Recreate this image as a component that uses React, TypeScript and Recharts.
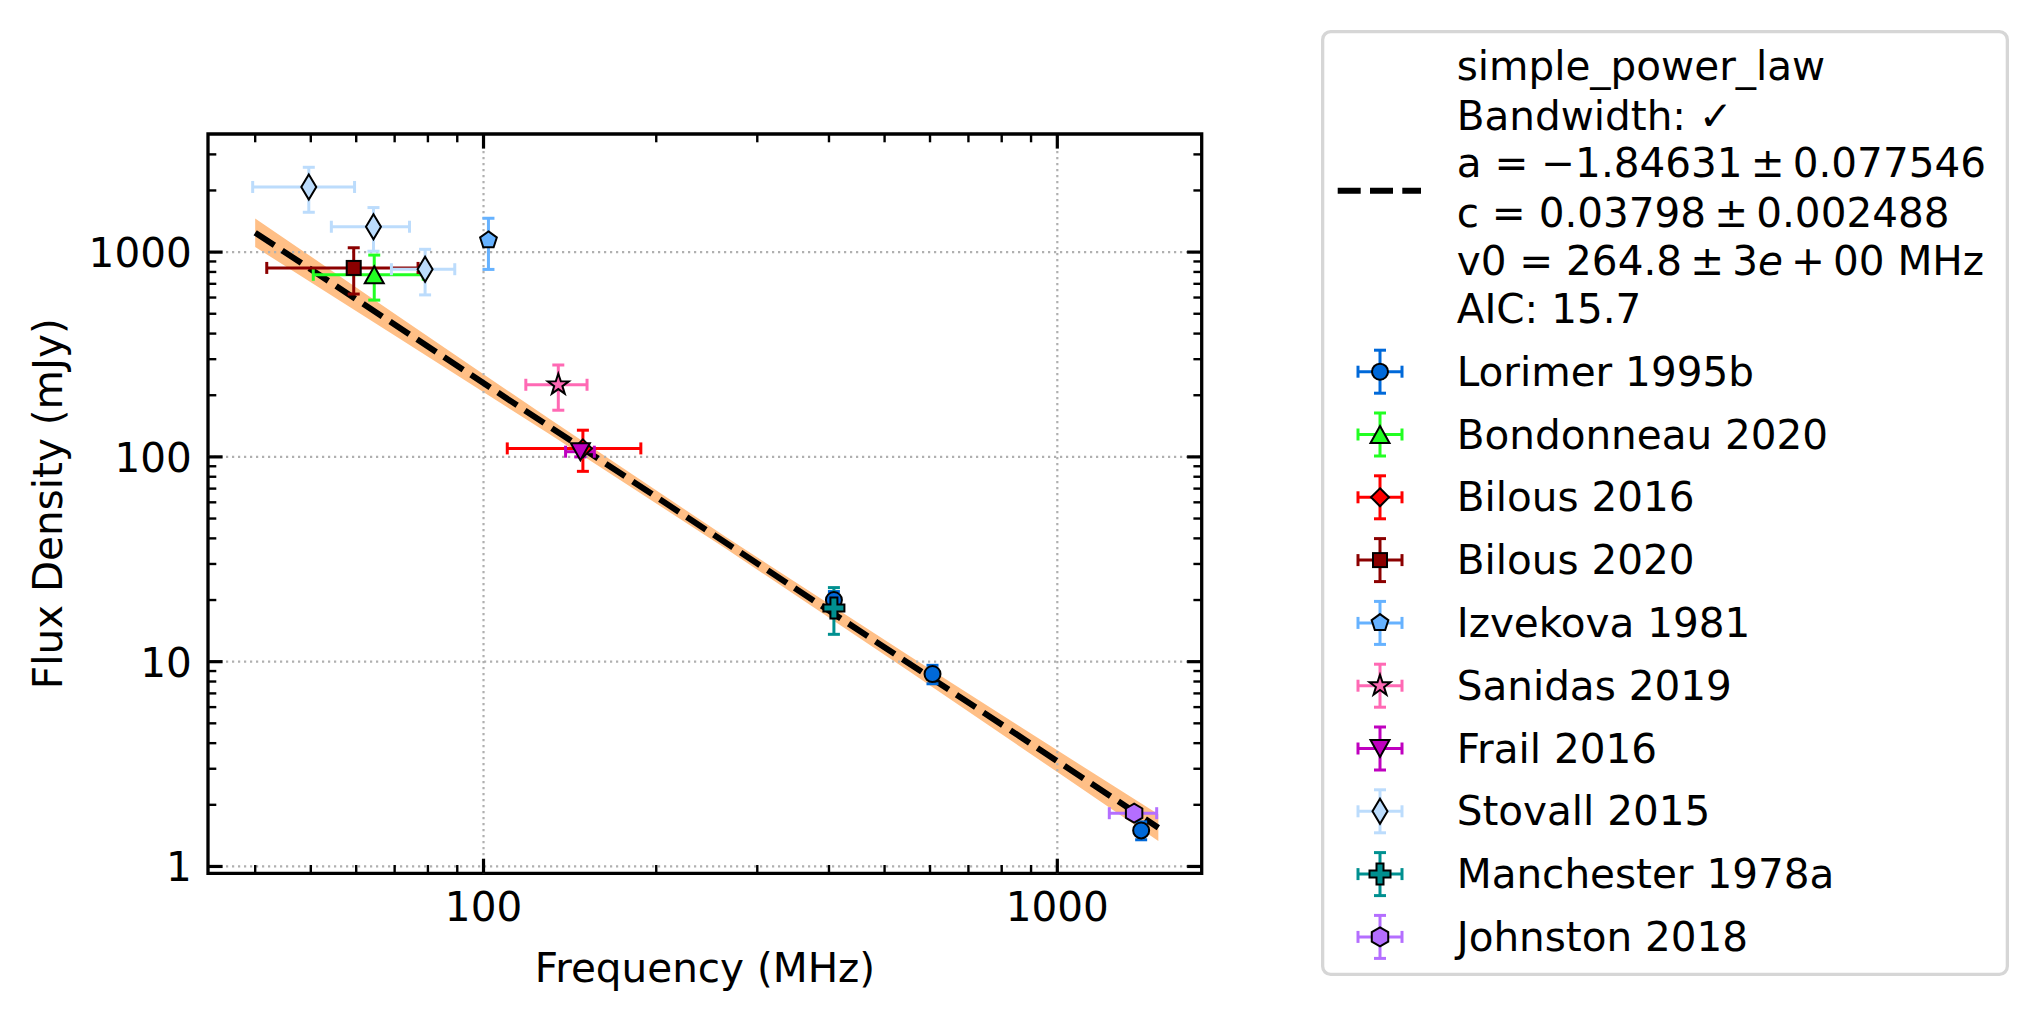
import React from 'react';
import {
  ComposedChart,
  XAxis,
  YAxis,
  Scatter,
  ErrorBar,
  Line,
  Area,
  ReferenceLine,
  ReferenceArea,
} from 'recharts';

// ---- axes ----
const X_DOMAIN = [33.1, 1785];
const Y_DOMAIN = [0.926, 3773];
const X_MAJOR = [100, 1000];
const X_MINOR = [40, 50, 60, 70, 80, 90, 200, 300, 400, 500, 600, 700, 800, 900];
const Y_MAJOR = [1, 10, 100, 1000];
const Y_MINOR = [
  2, 3, 4, 5, 6, 7, 8, 9, 20, 30, 40, 50, 60, 70, 80, 90, 200, 300, 400, 500, 600, 700, 800, 900,
  2000, 3000,
];

// ---- fit (simple power law) ----
const FIT_FREQ = [40, 1500];
const FIT_FLUX = [1244, 1.546];
const BAND_FREQ = [40, 70, 130, 265, 550, 1000, 1500];
const BAND_LOW = [1059, 392, 129.6, 35.5, 9.03, 2.89, 1.33];
const BAND_HIGH = [1461, 500, 153.8, 40.5, 10.74, 3.69, 1.8];
const FIT_LABEL = [
  'simple_power_law',
  'Bandwidth: \u2713',
  'a = \u22121.84631\u2009\u00b1\u20090.077546',
  'c = 0.03798\u2009\u00b1\u20090.002488',
  'v0 = 264.8\u2009\u00b1\u20093e\u2009+\u200900 MHz',
  'AIC: 15.7',
];

// ---- measurements ----
const LORIMER_FREQ = [408, 606, 1400];
const LORIMER_FLUX = [20, 8.7, 1.5];
const LORIMER_FLUX_ERR = [2, 0.9, 0.15];
const LORIMER_FREQ_ERR = [2, 3, 7];

const BONDONNEAU_FREQ = [64.5];
const BONDONNEAU_FLUX = [775];
const BONDONNEAU_FLUX_ERR = [192];
const BONDONNEAU_FREQ_ERR = [14];

const BILOUS16_FREQ = [149];
const BILOUS16_FLUX = [110];
const BILOUS16_FLUX_ERR = [25];
const BILOUS16_FREQ_ERR = [39];

const BILOUS20_FREQ = [59.4];
const BILOUS20_FLUX = [837];
const BILOUS20_FLUX_ERR = [213];
const BILOUS20_FREQ_ERR = [17.5];

const IZVEKOVA_FREQ = [102];
const IZVEKOVA_FLUX = [1143];
const IZVEKOVA_FLUX_ERR = [320];
const IZVEKOVA_FREQ_ERR = [1.5];

const SANIDAS_FREQ = [135];
const SANIDAS_FLUX = [225];
const SANIDAS_FLUX_ERR = [56];
const SANIDAS_FREQ_ERR = [16.5];

const FRAIL_FREQ = [147.5];
const FRAIL_FLUX = [106];
const FRAIL_FLUX_ERR = [6];
const FRAIL_FREQ_ERR = [8.5];

const STOVALL_FREQ = [49.6, 64.3, 79.1];
const STOVALL_FLUX = [2080, 1330, 825];
const STOVALL_FLUX_ERR = [515, 320, 207];
const STOVALL_FREQ_ERR = [10, 10, 10];

const MANCHESTER_FREQ = [408];
const MANCHESTER_FLUX = [18.3];
const MANCHESTER_FLUX_ERR = [4.7];
const MANCHESTER_FREQ_ERR = [2];

const JOHNSTON_FREQ = [1361];
const JOHNSTON_FLUX = [1.82];
const JOHNSTON_FLUX_ERR = [0.1];
const JOHNSTON_FREQ_ERR = [129];

type Kind =
  | 'circle' | 'triUp' | 'diamond' | 'square' | 'pentagon'
  | 'star' | 'triDown' | 'thinDiamond' | 'plus' | 'hexagon';

interface Series {
  name: string;
  color: string;
  marker: Kind;
  freq: number[];
  flux: number[];
  fluxErr: number[];
  freqErr: number[];
}

const SERIES: Series[] = [
  { name: 'Lorimer 1995b', color: '#0069d9', marker: 'circle', freq: LORIMER_FREQ, flux: LORIMER_FLUX, fluxErr: LORIMER_FLUX_ERR, freqErr: LORIMER_FREQ_ERR },
  { name: 'Bondonneau 2020', color: '#22ff22', marker: 'triUp', freq: BONDONNEAU_FREQ, flux: BONDONNEAU_FLUX, fluxErr: BONDONNEAU_FLUX_ERR, freqErr: BONDONNEAU_FREQ_ERR },
  { name: 'Bilous 2016', color: '#ff0000', marker: 'diamond', freq: BILOUS16_FREQ, flux: BILOUS16_FLUX, fluxErr: BILOUS16_FLUX_ERR, freqErr: BILOUS16_FREQ_ERR },
  { name: 'Bilous 2020', color: '#8b0000', marker: 'square', freq: BILOUS20_FREQ, flux: BILOUS20_FLUX, fluxErr: BILOUS20_FLUX_ERR, freqErr: BILOUS20_FREQ_ERR },
  { name: 'Izvekova 1981', color: '#66b2ff', marker: 'pentagon', freq: IZVEKOVA_FREQ, flux: IZVEKOVA_FLUX, fluxErr: IZVEKOVA_FLUX_ERR, freqErr: IZVEKOVA_FREQ_ERR },
  { name: 'Sanidas 2019', color: '#ff69b4', marker: 'star', freq: SANIDAS_FREQ, flux: SANIDAS_FLUX, fluxErr: SANIDAS_FLUX_ERR, freqErr: SANIDAS_FREQ_ERR },
  { name: 'Frail 2016', color: '#bf00bf', marker: 'triDown', freq: FRAIL_FREQ, flux: FRAIL_FLUX, fluxErr: FRAIL_FLUX_ERR, freqErr: FRAIL_FREQ_ERR },
  { name: 'Stovall 2015', color: '#bcdcfc', marker: 'thinDiamond', freq: STOVALL_FREQ, flux: STOVALL_FLUX, fluxErr: STOVALL_FLUX_ERR, freqErr: STOVALL_FREQ_ERR },
  { name: 'Manchester 1978a', color: '#009090', marker: 'plus', freq: MANCHESTER_FREQ, flux: MANCHESTER_FLUX, fluxErr: MANCHESTER_FLUX_ERR, freqErr: MANCHESTER_FREQ_ERR },
  { name: 'Johnston 2018', color: '#b46eff', marker: 'hexagon', freq: JOHNSTON_FREQ, flux: JOHNSTON_FLUX, fluxErr: JOHNSTON_FLUX_ERR, freqErr: JOHNSTON_FREQ_ERR },
];

// ---- layout ----
const W = 2042;
const H = 1018;
const PLOT_L = 208;
const PLOT_R = 1201.7;
const PLOT_T = 134;
const PLOT_B = 873.3;
const PLOT_W = PLOT_R - PLOT_L;
const PLOT_H = PLOT_B - PLOT_T;
const AXIS_SIZE = 60;
const FONT = '"DejaVu Sans", sans-serif';
const FS = 40.5;
const ERR_W = 3;

const fitData = FIT_FREQ.map((f, i) => ({ freq: f, flux: FIT_FLUX[i] }));
const bandData = BAND_FREQ.map((f, i) => ({ freq: f, band: [BAND_LOW[i], BAND_HIGH[i]] }));
const rows = (s: Series) =>
  s.freq.map((f, i) => ({ freq: f, flux: s.flux[i], fluxErr: s.fluxErr[i], freqErr: s.freqErr[i] }));

const poly = (cx: number, cy: number, n: number, r: number, rot: number, inner?: number) => {
  const pts: string[] = [];
  const m = inner ? n * 2 : n;
  for (let k = 0; k < m; k++) {
    const rr = inner && k % 2 === 1 ? inner : r;
    const a = rot + (k * 2 * Math.PI) / m;
    pts.push(`${cx + rr * Math.sin(a)},${cy - rr * Math.cos(a)}`);
  }
  return pts.join(' ');
};

function Marker({ kind, cx, cy, fill }: { kind: Kind; cx: number; cy: number; fill: string }) {
  const st = { fill, stroke: '#000', strokeWidth: 2, strokeLinejoin: 'miter' as const };
  switch (kind) {
    case 'circle':
      return <circle cx={cx} cy={cy} r={8} {...st} />;
    case 'square':
      return <rect x={cx - 7} y={cy - 7} width={14} height={14} {...st} />;
    case 'diamond':
      return <polygon points={`${cx},${cy - 9} ${cx + 9},${cy} ${cx},${cy + 9} ${cx - 9},${cy}`} {...st} />;
    case 'thinDiamond':
      return <polygon points={`${cx},${cy - 12.5} ${cx + 7.5},${cy} ${cx},${cy + 12.5} ${cx - 7.5},${cy}`} {...st} />;
    case 'triUp':
      return <polygon points={`${cx},${cy - 8.5} ${cx + 9.5},${cy + 8.5} ${cx - 9.5},${cy + 8.5}`} {...st} />;
    case 'triDown':
      return <polygon points={`${cx},${cy + 8.5} ${cx + 9.5},${cy - 8.5} ${cx - 9.5},${cy - 8.5}`} {...st} />;
    case 'pentagon':
      return <polygon points={poly(cx, cy, 5, 8.8, 0)} {...st} />;
    case 'star':
      return <polygon points={poly(cx, cy, 5, 11, 0, 4.3)} {...st} />;
    case 'hexagon':
      return <polygon points={poly(cx, cy, 6, 9.5, 0)} {...st} />;
    case 'plus': {
      const a = 10.5;
      const b = 3.5;
      const p = [
        [-b, -a], [b, -a], [b, -b], [a, -b], [a, b], [b, b],
        [b, a], [-b, a], [-b, b], [-a, b], [-a, -b], [-b, -b],
      ];
      return <polygon points={p.map(([x, y]) => `${cx + x},${cy + y}`).join(' ')} {...st} />;
    }
    default:
      return null;
  }
}

const XTick = (props: any) => {
  const { x, y, payload } = props;
  const major = X_MAJOR.includes(payload.value);
  const len = major ? 14.6 : 8.3;
  const sw = major ? 3.2 : 2.4;
  return (
    <g>
      <line x1={x} x2={x} y1={y} y2={y - len} stroke="#000" strokeWidth={sw} />
      <line x1={x} x2={x} y1={y - PLOT_H} y2={y - PLOT_H + len} stroke="#000" strokeWidth={sw} />
      {major && (
        <text x={x} y={y + 47.7} textAnchor="middle" fontFamily={FONT} fontSize={FS} fill="#000">
          {payload.value}
        </text>
      )}
    </g>
  );
};

const YTick = (props: any) => {
  const { x, y, payload } = props;
  const major = Y_MAJOR.includes(payload.value);
  const len = major ? 14.6 : 8.3;
  const sw = major ? 3.2 : 2.4;
  return (
    <g>
      <line x1={x} x2={x + len} y1={y} y2={y} stroke="#000" strokeWidth={sw} />
      <line x1={x + PLOT_W} x2={x + PLOT_W - len} y1={y} y2={y} stroke="#000" strokeWidth={sw} />
      {major && (
        <text x={x - 16.3} y={y + 15} textAnchor="end" fontFamily={FONT} fontSize={FS} fill="#000">
          {payload.value}
        </text>
      )}
    </g>
  );
};

const grid = { stroke: '#b0b0b0', strokeWidth: 2.2, strokeDasharray: '2.2 3.8' };

function LegendBox() {
  const LX = 1321;
  const LY = 30;
  const LW = 688;
  const LH = 946;
  const fitBase = [50, 100, 146.7, 196.7, 245, 293.3];
  return (
    <g transform={`translate(${LX},${LY})`} fontFamily={FONT} fontSize={FS} fill="#000">
      <rect x={1.65} y={1.65} width={LW - 3.3} height={LH - 3.3} rx={8} fill="#fff" stroke="#d6d6d6" strokeWidth={3.3} />
      <line x1={16.7} x2={100} y1={160.7} y2={160.7} stroke="#000" strokeWidth={6} strokeDasharray="23 9.3" />
      {FIT_LABEL.map((t, i) => {
        if (t.includes('3e')) {
          const [pre, post] = t.split('3e');
          return (
            <text key={i} x={135.7} y={fitBase[i]}>
              {pre}3<tspan fontStyle="italic">e</tspan>
              {post}
            </text>
          );
        }
        return (
          <text key={i} x={135.7} y={fitBase[i]}>
            {t}
          </text>
        );
      })}
      {SERIES.map((s, i) => {
        const cy = 341.7 + i * 62.8;
        const cx = 59;
        return (
          <g key={s.name}>
            <g stroke={s.color} strokeWidth={ERR_W}>
              <line x1={cx - 22} x2={cx + 22} y1={cy} y2={cy} />
              <line x1={cx - 22} x2={cx - 22} y1={cy - 6} y2={cy + 6} />
              <line x1={cx + 22} x2={cx + 22} y1={cy - 6} y2={cy + 6} />
              <line x1={cx} x2={cx} y1={cy - 21.5} y2={cy + 21.5} />
              <line x1={cx - 6} x2={cx + 6} y1={cy - 21.5} y2={cy - 21.5} />
              <line x1={cx - 6} x2={cx + 6} y1={cy + 21.5} y2={cy + 21.5} />
            </g>
            <Marker kind={s.marker} cx={cx} cy={cy} fill={s.color} />
            <text x={135.7} y={cy + 14}>
              {s.name}
            </text>
          </g>
        );
      })}
    </g>
  );
}

export default function App() {
  return (
    <div style={{ position: 'relative', width: W, height: H, background: '#fff' }}>
      <style>{'body{margin:0;background:#fff}'}</style>
      <ComposedChart
        width={W}
        height={H}
        margin={{
          top: PLOT_T,
          right: W - PLOT_R,
          bottom: H - PLOT_B - AXIS_SIZE,
          left: PLOT_L - AXIS_SIZE,
        }}
      >
        <XAxis
          type="number"
          dataKey="freq"
          scale="log"
          domain={X_DOMAIN}
          allowDataOverflow
          ticks={[...X_MINOR, ...X_MAJOR].sort((a, b) => a - b)}
          interval={0}
          tickSize={0}
          tickMargin={0}
          axisLine={false}
          tickLine={false}
          height={AXIS_SIZE}
          tick={XTick}
        />
        <YAxis
          type="number"
          dataKey="flux"
          scale="log"
          domain={Y_DOMAIN}
          allowDataOverflow
          ticks={[...Y_MINOR, ...Y_MAJOR].sort((a, b) => a - b)}
          interval={0}
          tickSize={0}
          tickMargin={0}
          axisLine={false}
          tickLine={false}
          width={AXIS_SIZE}
          tick={YTick}
        />
        {X_MAJOR.map((v) => (
          <ReferenceLine key={`gx${v}`} x={v} {...grid} />
        ))}
        {Y_MAJOR.map((v) => (
          <ReferenceLine key={`gy${v}`} y={v} {...grid} />
        ))}
        <Area
          data={bandData}
          dataKey="band"
          type="linear"
          fill="#ffbf86"
          fillOpacity={1}
          stroke="none"
          isAnimationActive={false}
        />
        <Line
          data={fitData}
          dataKey="flux"
          type="linear"
          stroke="#000"
          strokeWidth={6}
          strokeDasharray="23 9.3"
          dot={false}
          isAnimationActive={false}
        />
        {SERIES.map((s) => (
          <Scatter
            key={s.name}
            name={s.name}
            data={rows(s)}
            fill={s.color}
            isAnimationActive={false}
            shape={(p: any) => <Marker kind={s.marker} cx={p.cx} cy={p.cy} fill={s.color} />}
          >
            <ErrorBar dataKey="freqErr" direction="x" width={6} stroke={s.color} strokeWidth={ERR_W} />
            <ErrorBar dataKey="fluxErr" direction="y" width={6} stroke={s.color} strokeWidth={ERR_W} />
          </Scatter>
        ))}
        <ReferenceArea
          x1={X_DOMAIN[0]}
          x2={X_DOMAIN[1]}
          y1={Y_DOMAIN[0]}
          y2={Y_DOMAIN[1]}
          fill="none"
          fillOpacity={0}
          stroke="#000"
          strokeWidth={3.3}
          ifOverflow="visible"
        />
      </ComposedChart>
      <svg
        width={W}
        height={H}
        style={{ position: 'absolute', left: 0, top: 0, pointerEvents: 'none' }}
      >
        <text
          x={61.7}
          y={503.7}
          transform="rotate(-90, 61.7, 503.7)"
          textAnchor="middle"
          fontFamily={FONT}
          fontSize={FS}
          fill="#000"
        >
          Flux Density (mJy)
        </text>
        <text x={705} y={981.7} textAnchor="middle" fontFamily={FONT} fontSize={FS} fill="#000">
          Frequency (MHz)
        </text>
        <LegendBox />
      </svg>
    </div>
  );
}
